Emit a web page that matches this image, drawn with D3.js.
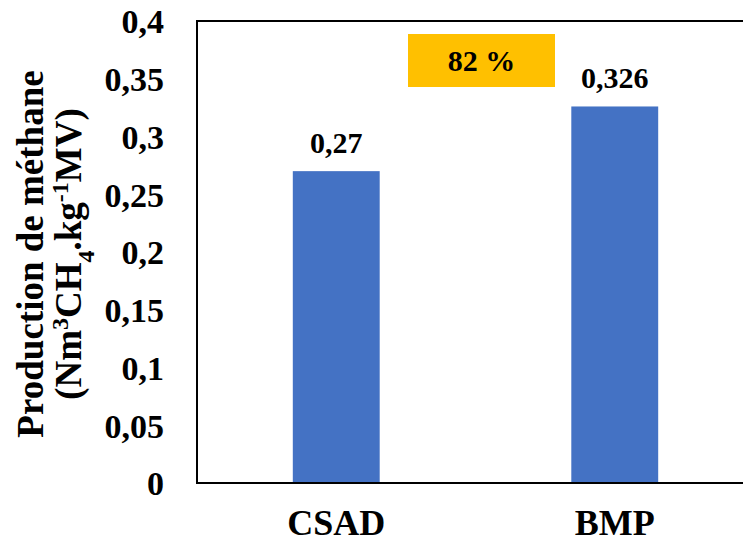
<!DOCTYPE html>
<html>
<head>
<meta charset="utf-8">
<script src="https://cdn.jsdelivr.net/npm/d3@7"></script>
<style>
html,body{margin:0;padding:0;background:#fff;}
svg{display:block;}
text{font-family:"Liberation Serif","Times New Roman",serif;font-weight:bold;fill:#000;}
</style>
</head>
<body>
<svg id="chart" width="743" height="542"></svg>
<script>
const categories = ["CSAD", "BMP"];
const values = [0.27, 0.326];
const valueLabels = ["0,27", "0,326"];
const yTicks = [0, 0.05, 0.1, 0.15, 0.2, 0.25, 0.3, 0.35, 0.4];
const yTickLabels = ["0", "0,05", "0,1", "0,15", "0,2", "0,25", "0,3", "0,35", "0,4"];
const annotation = "82 %";

const svg = d3.select("#chart");
const pL = 197, pR = 754, pT = 21, pB = 483;

const x = d3.scaleBand().domain(categories).range([pL, pR]).paddingInner(0.688).paddingOuter(0.344);
const y = d3.scaleLinear().domain([0, 0.4]).range([pB, pT]);

// bars
svg.selectAll("rect.bar").data(values).enter().append("rect")
  .attr("class", "bar")
  .attr("x", (d, i) => x(categories[i]))
  .attr("width", x.bandwidth())
  .attr("y", d => y(d))
  .attr("height", d => y(0) - y(d))
  .attr("fill", "#4472C4");

// frame
svg.append("rect").attr("x", pL).attr("y", pT).attr("width", pR - pL).attr("height", pB - pT)
  .attr("fill", "none").attr("stroke", "#000").attr("stroke-width", 2);

// y axis
const yAxis = d3.axisLeft(y).tickValues(yTicks).tickSize(0).tickPadding(33)
  .tickFormat((d, i) => yTickLabels[i]);
const gy = svg.append("g").attr("transform", `translate(${pL},0)`).call(yAxis);
gy.select(".domain").remove();
gy.selectAll("text").style("font-size", "34px").style("font-family", '"Liberation Serif",serif').style("font-weight", "bold").attr("dy", "0.35em");

// x axis
const xAxis = d3.axisBottom(x).tickSize(0).tickPadding(26);
const gx = svg.append("g").attr("transform", `translate(0,${pB})`).call(xAxis);
gx.select(".domain").remove();
gx.selectAll("text").style("font-size", "36px").style("font-family", '"Liberation Serif",serif').style("font-weight", "bold");

// value labels
svg.selectAll("text.val").data(values).enter().append("text")
  .attr("class", "val")
  .attr("x", (d, i) => x(categories[i]) + x.bandwidth() / 2)
  .attr("y", d => y(d) - 18)
  .attr("text-anchor", "middle")
  .style("font-size", "30px")
  .text((d, i) => valueLabels[i]);

// annotation box
const boxX = 408, boxY = 34, boxW = 147, boxH = 53;
svg.append("rect").attr("x", boxX).attr("y", boxY).attr("width", boxW).attr("height", boxH).attr("fill", "#FFC000");
svg.append("text").attr("x", boxX + boxW / 2).attr("y", boxY + boxH / 2).attr("dy", "0.35em")
  .attr("text-anchor", "middle").style("font-size", "30px").text(annotation);

// y title
const tcy = (pT + pB) / 2 + 2;
svg.append("text").attr("transform", `translate(43,${tcy}) rotate(-90)`).attr("text-anchor", "middle")
  .style("font-size", "37px").text("Production de méthane");
const t2 = svg.append("text").attr("transform", `translate(81,${tcy}) rotate(-90)`).attr("text-anchor", "middle")
  .style("font-size", "37px");
t2.append("tspan").text("(Nm");
t2.append("tspan").attr("baseline-shift", "super").style("font-size", "24px").text("3");
t2.append("tspan").text("CH");
t2.append("tspan").attr("baseline-shift", "sub").style("font-size", "24px").text("4");
t2.append("tspan").text(".kg");
t2.append("tspan").attr("baseline-shift", "super").style("font-size", "24px").text("-1");
t2.append("tspan").text("MV)");
</script>
</body>
</html>
